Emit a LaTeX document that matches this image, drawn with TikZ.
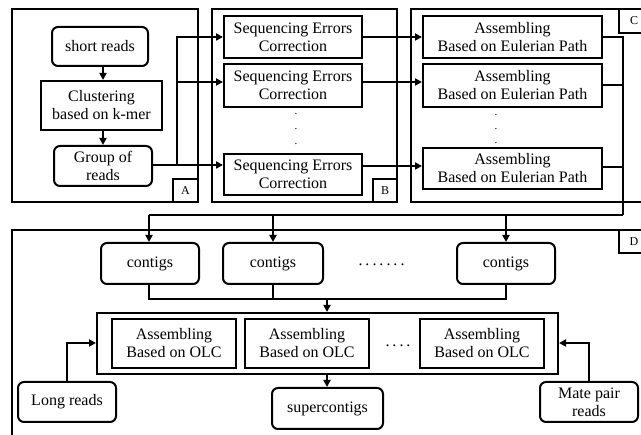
\documentclass[tikz,border=0pt]{standalone}
\usepackage{fontspec}
\setmainfont{Liberation Serif}
\usetikzlibrary{arrows.meta}
\begin{document}
\begin{tikzpicture}[x=1pt,y=-1pt,
  every node/.style={font=\fontsize{16}{18}\selectfont, align=center, inner sep=0pt},
  frame/.style={draw, line width=2pt},
  rbox/.style={draw, line width=2pt, rounded corners=6pt},
  sbox/.style={draw, line width=2pt},
  lab/.style={draw, line width=1.5pt, fill=white, font=\fontsize{12}{14}\selectfont},
  dotnode/.style={font=\fontsize{11}{11}\selectfont},
  arr/.style={line width=2pt, -{Triangle[length=7pt,width=7pt]}},
  ln/.style={line width=2pt}]
\useasboundingbox (0,0) rectangle (641,435);
\clip (0,0) rectangle (641,435);
% frames
\draw[frame] (12,9) rectangle (198,202);
\node[lab, minimum width=25pt, minimum height=23pt] (la) at (185.5,190.5) {A};
\draw[frame] (212,9) rectangle (397,202);
\node[lab, minimum width=24pt, minimum height=23pt] (lb) at (385,190.5) {B};
\draw[frame] (411,9) rectangle (660,202);
\node[lab, minimum width=30pt, minimum height=24pt] (lc) at (634,21) {C};
\draw[frame] (12,230) rectangle (660,450);
\node[lab, minimum width=30pt, minimum height=23pt] (ld) at (634,241.5) {D};
% A
\node[rbox, minimum width=96pt, minimum height=39pt] (sr) at (100,46.5) {short reads};
\node[sbox, minimum width=121pt, minimum height=49pt] (cl) at (101.5,105.5) {Clustering\\based on k-mer};
\node[rbox, minimum width=98pt, minimum height=40pt] (gr) at (103,166) {Group of\\reads};
\draw[arr] (sr.south -| 103,0) -- (cl.north -| 103,0);
\draw[arr] (cl.south -| 103,0) -- (gr.north -| 103,0);
% B
\node[sbox, minimum width=138pt, minimum height=42pt] (b1) at (293,37) {Sequencing Errors\\Correction};
\node[sbox, minimum width=138pt, minimum height=43pt] (b2) at (293,85.5) {Sequencing Errors\\Correction};
\node[sbox, minimum width=138pt, minimum height=41pt] (b3) at (293,174.5) {Sequencing Errors\\Correction};
\node[dotnode] (bd1) at (296,114) {.};
\node[dotnode] (bd2) at (296,129) {.};
\node[dotnode] (bd3) at (296,144) {.};
\coordinate (sp) at (177,165);
\draw[ln] (gr.east |- sp) -- (sp);
\draw[arr] (sp) -- (177,37) -- (b1.west |- 0,37);
\draw[arr] (177,82) -- (b2.west |- 0,82);
\draw[arr] (sp) -- (b3.west |- sp);
% C
\node[sbox, minimum width=179pt, minimum height=42pt] (c1) at (512.5,37) {Assembling\\Based on Eulerian Path};
\node[sbox, minimum width=179pt, minimum height=43pt] (c2) at (512.5,85.5) {Assembling\\Based on Eulerian Path};
\node[sbox, minimum width=179pt, minimum height=41pt] (c3) at (512.5,168.5) {Assembling\\Based on Eulerian Path};
\node[dotnode] (cd1) at (496,115) {.};
\node[dotnode] (cd2) at (496,129) {.};
\node[dotnode] (cd3) at (496,143) {.};
\draw[arr] (b1.east |- 0,37) -- (c1.west |- 0,37);
\draw[arr] (b2.east |- 0,82) -- (c2.west |- 0,82);
\draw[arr] (b3.east |- 0,166) -- (c3.west |- 0,166);
\coordinate (cr) at (623,215);
\draw[ln] (c1.east |- 0,37) -- (623,37) -- (cr);
\draw[ln] (c2.east |- 0,85) -- (623,85);
\draw[ln] (c3.east |- 0,167) -- (623,167);
% D
\node[rbox, minimum width=98pt, minimum height=41pt] (k1) at (150,263.5) {contigs};
\node[rbox, minimum width=100pt, minimum height=41pt] (k2) at (273,263.5) {contigs};
\node[rbox, minimum width=98pt, minimum height=41pt] (k3) at (506,263.5) {contigs};
\node (kd) at (381.5,265) {.\hspace{3pt}.\hspace{3pt}.\hspace{3pt}.\hspace{3pt}.\hspace{3pt}.\hspace{3pt}.};
\draw[ln] (cr) -- (149,215);
\draw[arr] (149,215) -- (k1.north -| 149,0);
\draw[arr] (273,215) -- (k2.north);
\draw[arr] (506,215) -- (k3.north);
\coordinate (mj) at (327,299);
\draw[ln] (k1.south -| 149,0) -- (149,299) -- (506,299) -- (k3.south);
\draw[ln] (k2.south) -- (273,299);
\node[sbox, minimum width=461pt, minimum height=61pt] (big) at (327.5,343.5) {};
\draw[arr] (mj) -- (big.north -| mj);
\node[sbox, minimum width=124pt, minimum height=49pt] (o1) at (174,343.5) {Assembling\\Based on OLC};
\node[sbox, minimum width=124pt, minimum height=49pt] (o2) at (307,343.5) {Assembling\\Based on OLC};
\node[sbox, minimum width=124pt, minimum height=49pt] (o3) at (482,343.5) {Assembling\\Based on OLC};
\node (od) at (398,346) {.\hspace{3pt}.\hspace{3pt}.\hspace{3pt}.};
\node[rbox, minimum width=111pt, minimum height=41pt] (sc) at (327.5,408.5) {supercontigs};
\draw[arr] (big.south -| mj) -- (sc.north -| mj);
\node[rbox, minimum width=98pt, minimum height=40pt] (lr) at (67,402) {Long reads};
\node[rbox, minimum width=98pt, minimum height=40pt] (mp) at (589,402) {Mate pair\\reads};
\draw[arr] (lr.north) -- (67,343) -- (big.west |- 0,343);
\draw[arr] (mp.north) -- (589,343) -- (big.east |- 0,343);
\end{tikzpicture}
\end{document}
